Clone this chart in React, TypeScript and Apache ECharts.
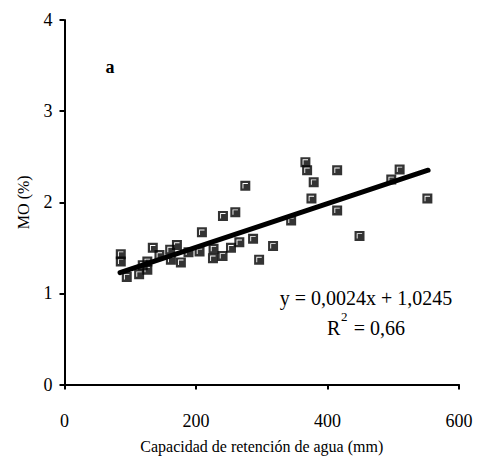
import React, { useEffect, useRef } from "react";
import * as echarts from "echarts";

// Capacidad de retención de agua (mm)
const xValues: number[] = [
  85.6, 85.6, 94.7, 113.5, 119, 126, 126, 134.3, 144.4, 160.7, 161.8, 171, 177, 188.6, 205.4,
  209, 225.8, 226.7, 240.4, 241, 253.2, 259.8, 265.9, 275, 286.8, 296, 317.2, 344.7, 366.4,
  369, 375.6, 379, 414.7, 414.7, 448.7, 497, 509.7, 551.9,
];
// MO (%)
const yValues: number[] = [
  1.43, 1.35, 1.18, 1.21, 1.31, 1.35, 1.26, 1.5, 1.42, 1.48, 1.37, 1.53, 1.34, 1.45, 1.46,
  1.67, 1.385, 1.49, 1.41, 1.85, 1.5, 1.89, 1.56, 2.18, 1.6, 1.37, 1.52, 1.8, 2.44,
  2.35, 2.04, 2.22, 2.35, 1.91, 1.63, 2.25, 2.36, 2.04,
];
const trendX: number[] = [84.5, 553];
const slope = 0.0024;
const intercept = 1.0245;
const xTicks: number[] = [0, 200, 400, 600];
const yTicks: number[] = [0, 1, 2, 3, 4];

const FONT = "'Liberation Serif', 'Times New Roman', serif";

export default function App() {
  const ref = useRef<HTMLDivElement>(null);
  useEffect(() => {
    document.body.style.margin = "0";
    const chart = echarts.init(ref.current!, undefined, { renderer: "svg" });
    const points = xValues.map((x, i) => [x, yValues[i]]);
    const trend = trendX.map((x) => [x, slope * x + intercept]);
    const marker =
      "path://M0 0 H10 V10 H0 Z M2.2 2.2 V7.6 H3.1 V3.1 H7.6 V2.2 Z";
    chart.setOption({
      animation: false,
      backgroundColor: "#fff",
      textStyle: { fontFamily: FONT, color: "#000" },
      grid: { left: 64.5, right: 18, top: 20, bottom: 76.5 },
      xAxis: {
        type: "value",
        min: xTicks[0],
        max: xTicks[xTicks.length - 1],
        interval: 200,
        name: "Capacidad de retención de agua (mm)",
        nameLocation: "middle",
        nameGap: 54,
        nameTextStyle: { fontFamily: FONT, fontSize: 16, color: "#000" },
        axisLine: { lineStyle: { color: "#000", width: 2 } },
        axisTick: { show: true, length: 5, lineStyle: { color: "#000", width: 2 } },
        axisLabel: { fontFamily: FONT, fontSize: 18, color: "#000", margin: 27 },
        splitLine: { show: false },
      },
      yAxis: {
        type: "value",
        min: yTicks[0],
        max: yTicks[yTicks.length - 1],
        interval: 1,
        name: "MO (%)",
        nameLocation: "middle",
        nameGap: 33,
        nameRotate: 90,
        nameTextStyle: { fontFamily: FONT, fontSize: 16, color: "#000" },
        axisLine: { show: true, lineStyle: { color: "#000", width: 2 } },
        axisTick: { show: true, length: 5, lineStyle: { color: "#000", width: 2 } },
        axisLabel: { fontFamily: FONT, fontSize: 18, color: "#000", margin: 12 },
        splitLine: { show: false },
      },
      series: [
        {
          type: "scatter",
          data: points,
          symbol: marker,
          symbolSize: 10,
          itemStyle: { color: "#000" },
          z: 2,
        },
        {
          type: "line",
          data: trend,
          showSymbol: false,
          symbol: "none",
          lineStyle: { color: "#000", width: 5, cap: "round" },
          z: 3,
        },
      ],
      graphic: [
        {
          type: "text",
          x: 110,
          y: 67,
          style: {
            text: "a",
            font: `bold 18px ${FONT}`,
            fill: "#000",
            textAlign: "center",
            textVerticalAlign: "middle",
          },
        },
        {
          type: "text",
          x: 366,
          y: 298,
          style: {
            text: "y = 0,0024x + 1,0245",
            font: `20px ${FONT}`,
            fill: "#000",
            textAlign: "center",
            textVerticalAlign: "middle",
          },
        },
        {
          type: "text",
          x: 327,
          y: 328,
          style: {
            text: "R",
            font: `20px ${FONT}`,
            fill: "#000",
            textAlign: "left",
            textVerticalAlign: "middle",
          },
        },
        {
          type: "text",
          x: 341,
          y: 316,
          style: {
            text: "2",
            font: `13px ${FONT}`,
            fill: "#000",
            textAlign: "left",
            textVerticalAlign: "middle",
          },
        },
        {
          type: "text",
          x: 405,
          y: 328,
          style: {
            text: "= 0,66",
            font: `20px ${FONT}`,
            fill: "#000",
            textAlign: "right",
            textVerticalAlign: "middle",
          },
        },
      ],
    });
    return () => chart.dispose();
  }, []);
  return (
    <div
      ref={ref}
      style={{ position: "absolute", left: 0, top: 0, width: 477, height: 461 }}
    />
  );
}
